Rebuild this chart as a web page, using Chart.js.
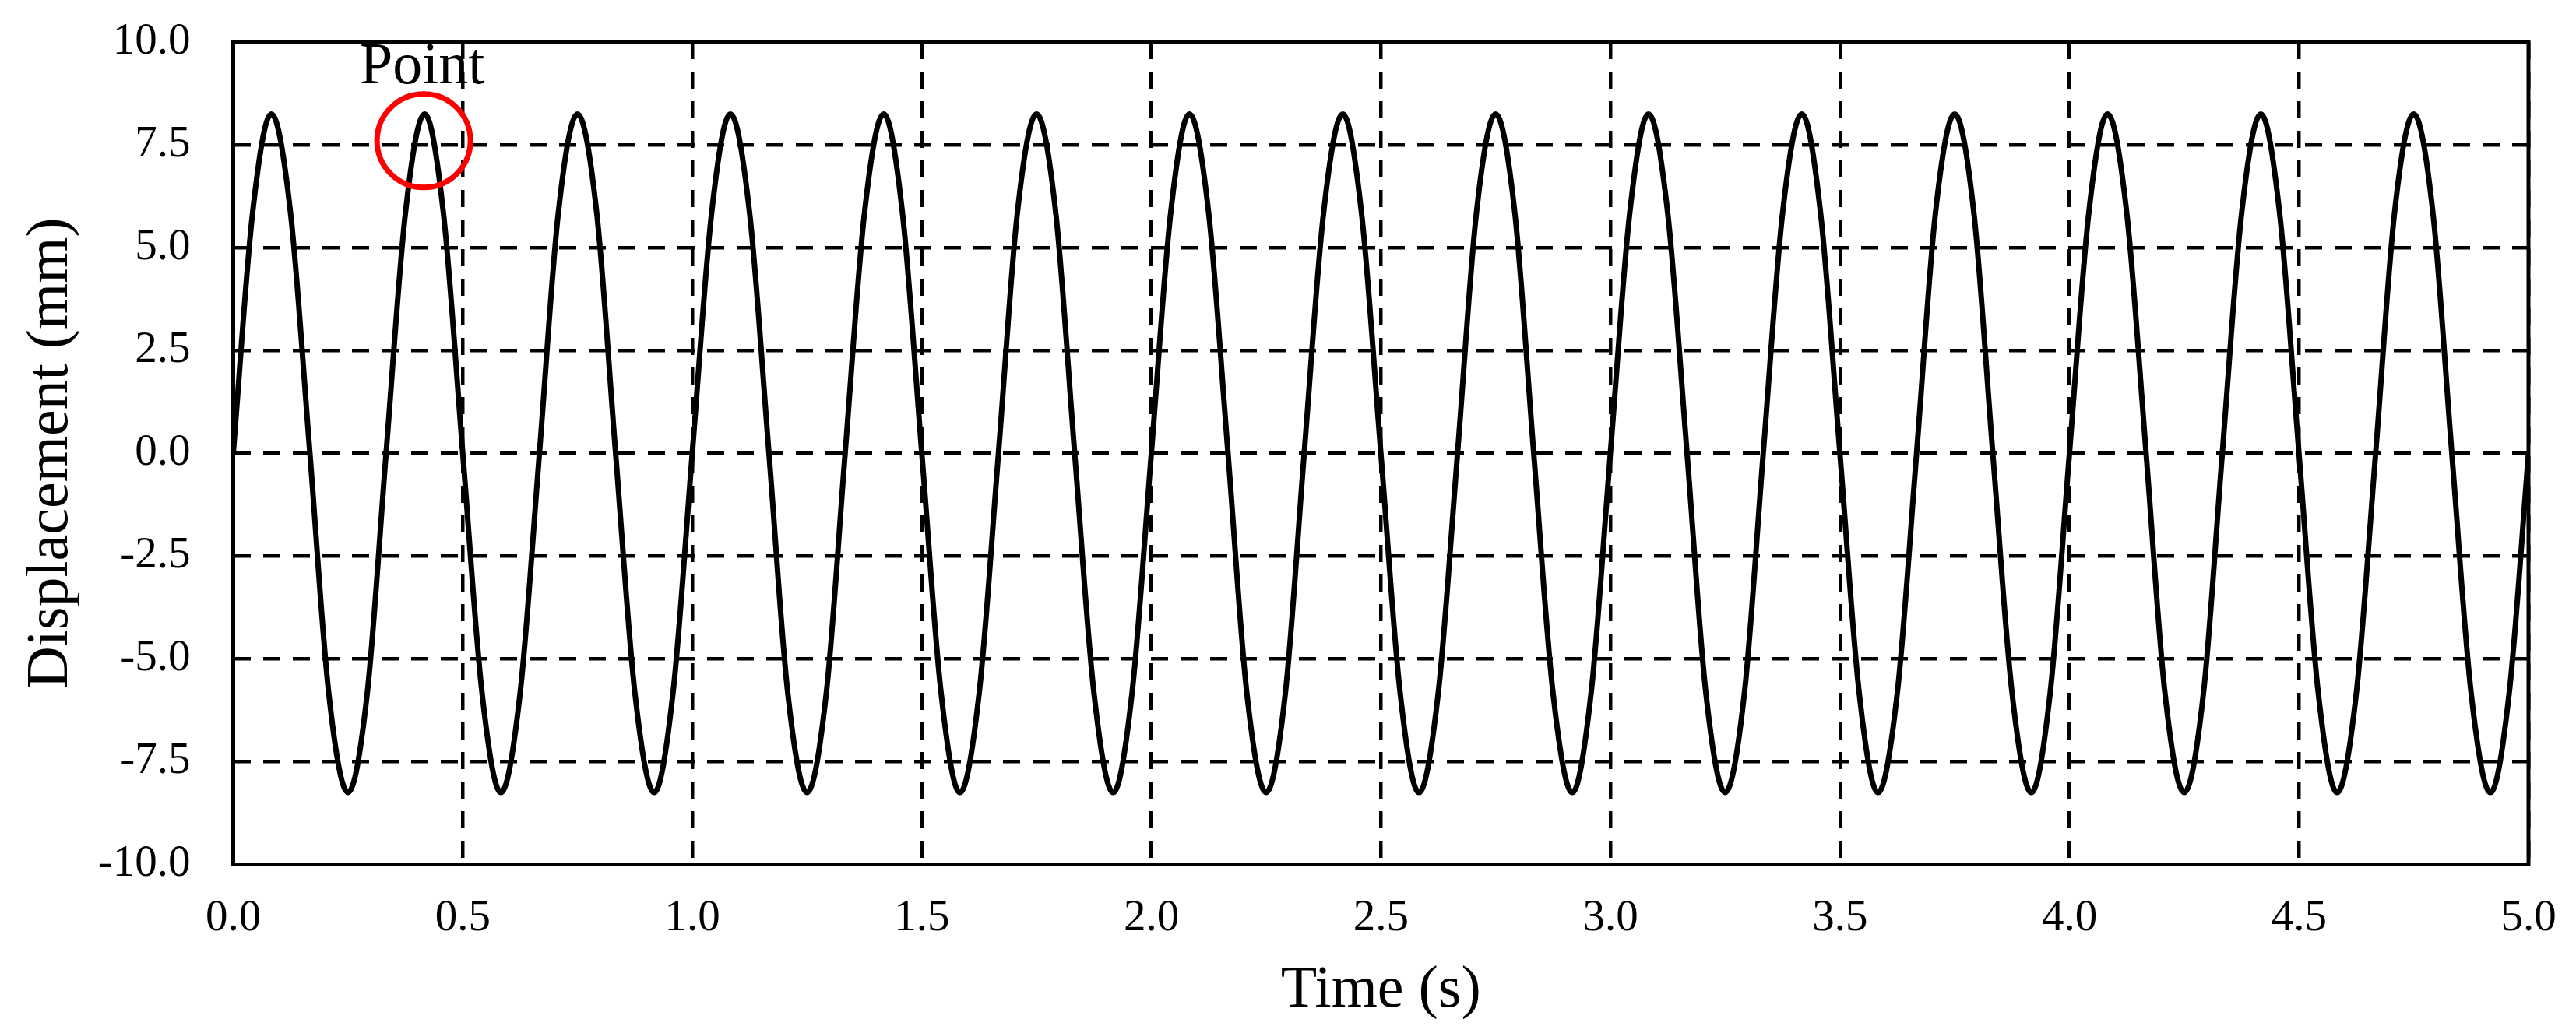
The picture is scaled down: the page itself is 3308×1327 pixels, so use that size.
<!DOCTYPE html>
<html>
<head>
<meta charset="utf-8">
<title>Displacement vs time</title>
<script src="https://cdn.jsdelivr.net/npm/chart.js@4.4.1/dist/chart.umd.min.js"></script>
<style>
  html, body { margin: 0; padding: 0; background: #fff; }
  #wrap { width: 3308px; height: 1327px; }
</style>
</head>
<body>
<div id="wrap"><canvas id="disp-chart" width="3308" height="1327"></canvas></div>
<script>
// DATA ------------------------------------------------

const timeS = [
  0, 0.042, 0.083, 0.125, 0.167, 0.208, 0.25, 0.292, 0.333, 0.375, 0.417, 0.458,
  0.5, 0.542, 0.583, 0.625, 0.667, 0.708, 0.75, 0.792, 0.833, 0.875, 0.917, 0.958,
  1, 1.042, 1.083, 1.125, 1.167, 1.208, 1.25, 1.292, 1.333, 1.375, 1.417, 1.458,
  1.5, 1.542, 1.583, 1.625, 1.667, 1.708, 1.75, 1.792, 1.833, 1.875, 1.917, 1.958,
  2, 2.042, 2.083, 2.125, 2.167, 2.208, 2.25, 2.292, 2.333, 2.375, 2.417, 2.458,
  2.5, 2.542, 2.583, 2.625, 2.667, 2.708, 2.75, 2.792, 2.833, 2.875, 2.917, 2.958,
  3, 3.042, 3.083, 3.125, 3.167, 3.208, 3.25, 3.292, 3.333, 3.375, 3.417, 3.458,
  3.5, 3.542, 3.583, 3.625, 3.667, 3.708, 3.75, 3.792, 3.833, 3.875, 3.917, 3.958,
  4, 4.042, 4.083, 4.125, 4.167, 4.208, 4.25, 4.292, 4.333, 4.375, 4.417, 4.458,
  4.5, 4.542, 4.583, 4.625, 4.667, 4.708, 4.75, 4.792, 4.833, 4.875, 4.917, 4.958,
  5,
];

const displacementMm = [
  0, 5.83, 8.25, 5.83, 0, -5.83, -8.25, -5.83,
  0, 5.83, 8.25, 5.83, 0, -5.83, -8.25, -5.83,
  0, 5.83, 8.25, 5.83, 0, -5.83, -8.25, -5.83,
  0, 5.83, 8.25, 5.83, 0, -5.83, -8.25, -5.83,
  0, 5.83, 8.25, 5.83, 0, -5.83, -8.25, -5.83,
  0, 5.83, 8.25, 5.83, 0, -5.83, -8.25, -5.83,
  0, 5.83, 8.25, 5.83, 0, -5.83, -8.25, -5.83,
  0, 5.83, 8.25, 5.83, 0, -5.83, -8.25, -5.83,
  0, 5.83, 8.25, 5.83, 0, -5.83, -8.25, -5.83,
  0, 5.83, 8.25, 5.83, 0, -5.83, -8.25, -5.83,
  0, 5.83, 8.25, 5.83, 0, -5.83, -8.25, -5.83,
  0, 5.83, 8.25, 5.83, 0, -5.83, -8.25, -5.83,
  0, 5.83, 8.25, 5.83, 0, -5.83, -8.25, -5.83,
  0, 5.83, 8.25, 5.83, 0, -5.83, -8.25, -5.83,
  0, 5.83, 8.25, 5.83, 0, -5.83, -8.25, -5.83,
  0,
];

// marked peak (red circle) and its label
const markTime = [0.415];
const markValue = [7.6];
const markLabel = "Point";

const xTicks = [0, 0.5, 1, 1.5, 2, 2.5, 3, 3.5, 4, 4.5, 5];
const yTicks = [-10, -7.5, -5, -2.5, 0, 2.5, 5, 7.5, 10];

const xTitle = "Time (s)";
const yTitle = "Displacement (mm)";

// CHART -----------------------------------------------

const FONT = "'Liberation Serif', 'Times New Roman', serif";
Chart.defaults.font.family = FONT;
Chart.defaults.color = "#000";

const curvePoints = timeS.map((t, i) => ({ x: t, y: displacementMm[i] }));
const markPoints = markTime.map((t, i) => ({ x: t, y: markValue[i] }));

const framePlugin = {
  id: "frame",
  afterDraw(chart) {
    const { ctx, chartArea: a } = chart;
    ctx.save();
    ctx.strokeStyle = "#000";
    ctx.lineWidth = 5;
    ctx.strokeRect(a.left, a.top, a.right - a.left, a.bottom - a.top);

    const pt = chart.getDatasetMeta(0).data[0];
    ctx.fillStyle = "#000";
    ctx.font = "76px " + FONT;
    ctx.textAlign = "center";
    ctx.textBaseline = "alphabetic";
    ctx.fillText(markLabel, pt.x - 2, pt.y - 74);
    ctx.restore();
  },
};

const gridStyle = {
  color: "#000",
  lineWidth: 4.5,
  drawTicks: false,
};

new Chart(document.querySelector("#disp-chart"), {
  type: "line",
  data: {
    datasets: [
      {
        type: "scatter",
        data: markPoints,
        pointRadius: 60,
        pointHoverRadius: 60,
        pointBorderWidth: 7,
        pointBorderColor: "#ff0000",
        pointBackgroundColor: "rgba(0,0,0,0)",
        order: 0,
      },
      {
        data: curvePoints,
        borderColor: "#000",
        borderWidth: 7,
        pointRadius: 0,
        fill: false,
        cubicInterpolationMode: "monotone",
        order: 1,
      },
    ],
  },
  options: {
    responsive: false,
    devicePixelRatio: 1,
    animation: false,
    layout: {
      autoPadding: false,
      padding: { left: 0, top: 54, right: 61, bottom: 0 },
    },
    scales: {
      x: {
        type: "linear",
        min: 0,
        max: 5,
        afterFit: (s) => {
          s.height = 216.5;
          s.paddingLeft = 0;
          s.paddingRight = 0;
        },
        afterBuildTicks: (s) => { s.ticks = xTicks.map((v) => ({ value: v })); },
        grid: gridStyle,
        border: { display: false, dash: [22, 16] },
        ticks: {
          padding: 35,
          font: { size: 57 },
          maxRotation: 0,
          callback: (v) => v.toFixed(1),
        },
        title: {
          display: true,
          text: xTitle,
          font: { size: 76, lineHeight: 1.2 },
          padding: { top: 0, bottom: 8 },
        },
      },
      y: {
        min: -10,
        max: 10,
        afterFit: (s) => {
          s.width = 299.5;
          s.paddingTop = 0;
          s.paddingBottom = 0;
        },
        afterBuildTicks: (s) => { s.ticks = yTicks.map((v) => ({ value: v })); },
        grid: gridStyle,
        border: { display: false, dash: [22, 16] },
        ticks: {
          padding: 55,
          font: { size: 57 },
          callback: (v) => v.toFixed(1),
        },
        title: {
          display: true,
          text: yTitle,
          font: { size: 76, lineHeight: 1.2 },
          padding: { top: 20, bottom: 0 },
        },
      },
    },
    plugins: {
      legend: { display: false },
      tooltip: { enabled: false },
    },
  },
  plugins: [framePlugin],
});
</script>
</body>
</html>
